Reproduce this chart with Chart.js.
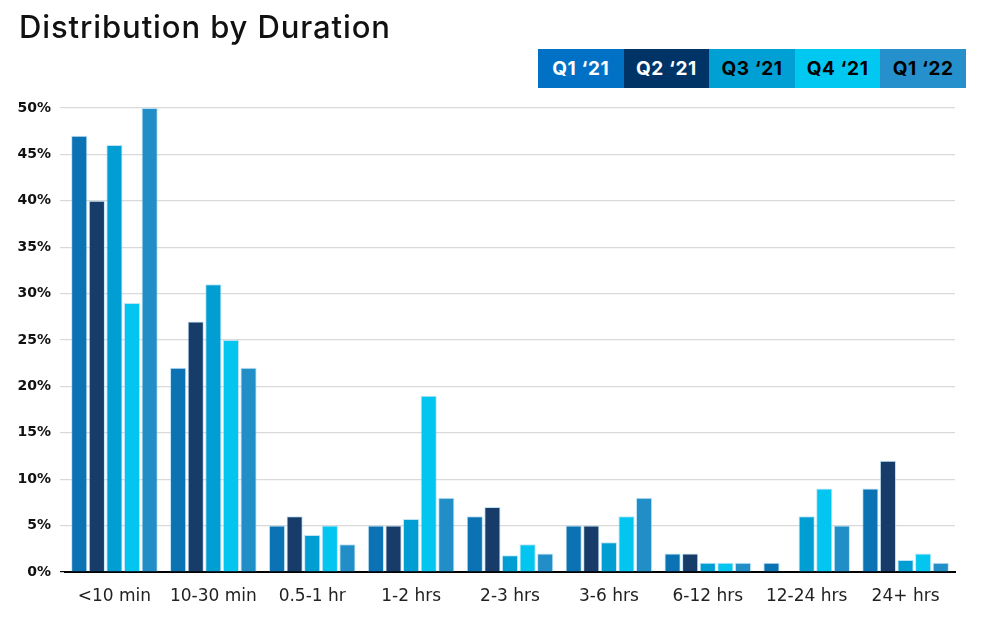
<!DOCTYPE html>
<html>
<head>
<meta charset="utf-8">
<script src="https://cdn.jsdelivr.net/npm/chart.js@4.4.1/dist/chart.umd.min.js"></script>
<style>
  html, body { margin:0; padding:0; background:#fff; }
  body { width:982px; height:626px; position:relative; overflow:hidden; font-family:'Inter', sans-serif; }
  .title { position:absolute; left:19px; top:8px; font-size:31px; font-weight:500; color:#111; letter-spacing:0.9px; }
  .legend { position:absolute; left:538px; top:49px; display:flex; }
  .legend div { width:85.6px; height:39px; line-height:39px; text-align:center; font-size:19px; font-weight:700; letter-spacing:0.6px; }
  .wrap { position:absolute; left:0; top:0; width:982px; height:626px; }
</style>
</head>
<body>
<div class="wrap"><canvas id="chart"></canvas></div>
<div class="title">Distribution by Duration</div>
<div class="legend" id="legend"></div>
<script>
// categorias y series
const categorias = ['<10 min','10-30 min','0.5-1 hr','1-2 hrs','2-3 hrs','3-6 hrs','6-12 hrs','12-24 hrs','24+ hrs'];
const q1_21 = [47, 22, 5, 5,   6,   5,   2, 1, 9];
const q2_21 = [40, 27, 6, 5,   7,   5,   2, 0, 12];
const q3_21 = [46, 31, 4, 5.7, 1.8, 3.2, 1, 6, 1.3];
const q4_21 = [29, 25, 5, 19,  3,   6,   1, 9, 2];
const q1_22 = [50, 22, 3, 8,   2,   8,   1, 5, 1];
const yTicks = [0,5,10,15,20,25,30,35,40,45,50];

const SERIES = [
  {label:"Q1 \u201821", data:q1_21, bar:'#0b72b3', leg:'#0071c5', txt:'#fff'},
  {label:"Q2 \u201821", data:q2_21, bar:'#173c6a', leg:'#003366', txt:'#fff'},
  {label:"Q3 \u201821", data:q3_21, bar:'#009ed3', leg:'#00a0d4', txt:'#000'},
  {label:"Q4 \u201821", data:q4_21, bar:'#02c6f0', leg:'#00c8f0', txt:'#000'},
  {label:"Q1 \u201822", data:q1_22, bar:'#218ec8', leg:'#2590cb', txt:'#000'}
];

document.getElementById('legend').innerHTML = SERIES.map(s =>
  `<div style="background:${s.leg};color:${s.txt}">${s.label}</div>`).join('');

new Chart(document.getElementById('chart'), {
  type:'bar',
  data:{
    labels:categorias,
    datasets:SERIES.map(s => ({
      label:s.label, data:s.data,
      backgroundColor:s.bar,
      borderColor:'rgba(150,210,240,0.6)', borderWidth:1,
      categoryPercentage:0.89, barPercentage:0.92
    }))
  },
  options:{
    responsive:true, maintainAspectRatio:false, animation:false,
    layout:{padding:{top:108, right:27, left:0, bottom:0}},
    plugins:{legend:{display:false}, tooltip:{enabled:false}},
    scales:{
      x:{
        grid:{display:false, drawTicks:false},
        border:{color:'#000', width:2},
        ticks:{color:'#222', padding:14, font:{size:17, family:'DejaVu Sans'}},
        afterFit:s => { s.height = 54; }
      },
      y:{
        min:0, max:50,
        afterBuildTicks:s => { s.ticks = yTicks.map(v => ({value:v})); },
        grid:{color:c => c.tick.value === 0 ? '#000' : '#d9d9d9', lineWidth:1.2, tickLength:5},
        border:{display:false},
        ticks:{color:'#111', padding:9, font:{size:14, weight:'bold', family:'DejaVu Sans'}, callback:v => v + '%'},
        afterFit:s => { s.width = 65; }
      }
    }
  }
});
</script>
</body>
</html>
